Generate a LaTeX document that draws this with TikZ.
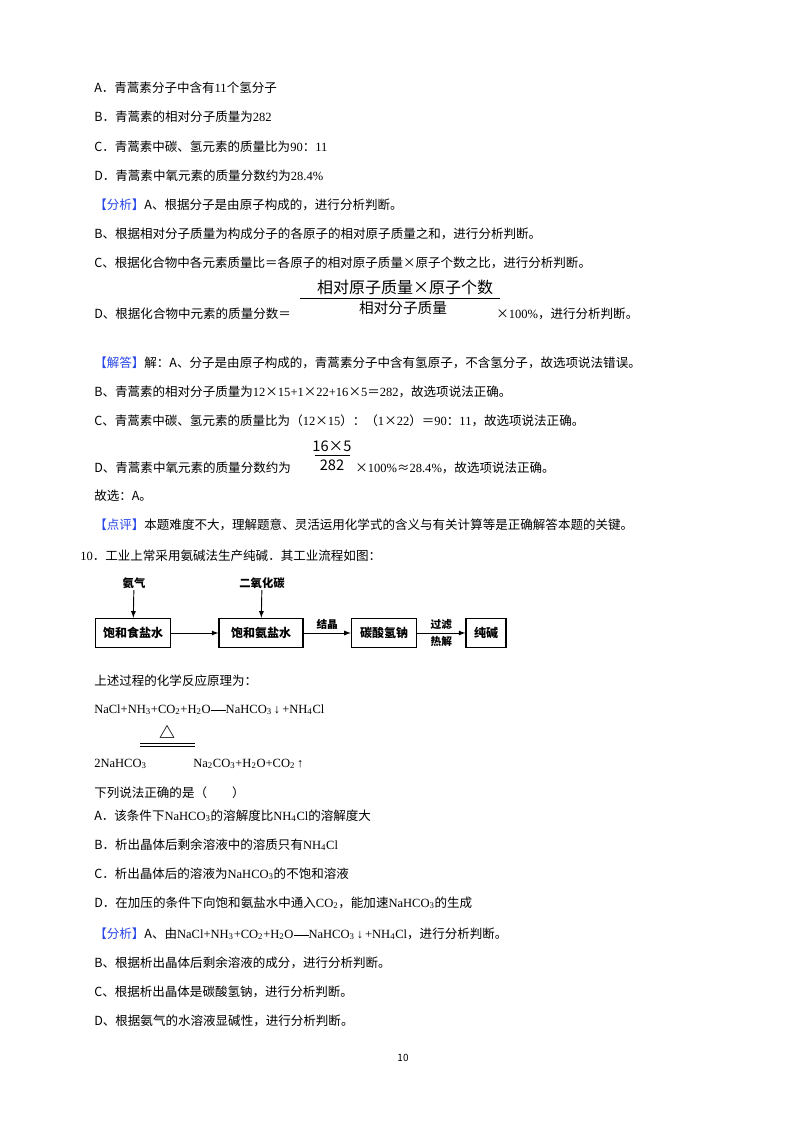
\documentclass[tikz,border=0pt]{standalone}
\usepackage{fontspec}
\setmainfont{Noto Sans CJK SC}
\newfontfamily\lat{Liberation Serif}
\definecolor{hl}{RGB}{40,70,230}
\newcommand{\sbt}[1]{\textsubscript{#1}}
\tikzset{ln/.style={anchor=base west,inner sep=0pt,font=\fontsize{9.4}{11}\selectfont},
box/.style={draw,line width=0.9pt,minimum height=22pt,inner sep=2pt,font=\fontsize{9}{11}\selectfont\bfseries},
arr/.style={-latex,line width=0.7pt},
tag/.style={text=hl,font=\fontsize{9.4}{11}\selectfont}}
\begin{document}
\begin{tikzpicture}[x=0.75pt,y=-0.75pt]
\useasboundingbox (0,0) rectangle (800,1132);
\fill[white] (0,0) rectangle (800,1132);
\node[ln] (a1) at (94,92) {A．青蒿素分子中含有{\lat 11}个氢分子};
\node[ln] (a2) at (94,121) {B．青蒿素的相对分子质量为{\lat 282}};
\node[ln] (a3) at (94,151) {C．青蒿素中碳、氢元素的质量比为{\lat 90}：{\lat 11}};
\node[ln] (a4) at (94,180) {D．青蒿素中氧元素的质量分数约为{\lat 28.4\%}};
\node[ln] (a5) at (94,209) {\textcolor{hl}{【分析】}A、根据分子是由原子构成的，进行分析判断。};
\node[ln] (a6) at (94,238) {B、根据相对分子质量为构成分子的各原子的相对原子质量之和，进行分析判断。};
\node[ln] (a7) at (94,267) {C、根据化合物中各元素质量比＝各原子的相对原子质量×原子个数之比，进行分析判断。};
\node[ln] (a8) at (94,318) {D、根据化合物中元素的质量分数＝};
\node[anchor=base,inner sep=0pt,font=\fontsize{12}{14}\selectfont] (f1) at (405,293) {相对原子质量×原子个数};
\draw[line width=0.6pt] (300,298) -- (500,298);
\node[anchor=base,inner sep=0pt,font=\fontsize{11}{13}\selectfont] (f2) at (403,313) {相对分子质量};
\node[ln] (a9) at (496,318) {×{\lat 100\%}，进行分析判断。};
\node[ln] (b1) at (94,367) {\textcolor{hl}{【解答】}解：A、分子是由原子构成的，青蒿素分子中含有氢原子，不含氢分子，故选项说法错误。};
\node[ln] (b2) at (94,396) {B、青蒿素的相对分子质量为{\lat 12}×{\lat 15+1}×{\lat 22+16}×{\lat 5}＝{\lat 282}，故选项说法正确。};
\node[ln] (b3) at (94,425) {C、青蒿素中碳、氢元素的质量比为（{\lat 12}×{\lat 15}）：（{\lat 1}×{\lat 22}）＝{\lat 90}：{\lat 11}，故选项说法正确。};
\node[ln] (b4) at (94,472) {D、青蒿素中氧元素的质量分数约为};
\node[anchor=base,inner sep=0pt,font=\fontsize{11}{13}\selectfont] (f3) at (332,451) {16×5};
\draw[line width=0.6pt] (315,455) -- (350,455);
\node[anchor=base,inner sep=0pt,font=\fontsize{11}{13}\selectfont] (f4) at (332,470) {282};
\node[ln] (b5) at (355,472) {×{\lat 100\%}≈{\lat 28.4\%}，故选项说法正确。};
\node[ln] (b6) at (94,500) {故选：A。};
\node[ln] (b7) at (94,529) {\textcolor{hl}{【点评】}本题难度不大，理解题意、灵活运用化学式的含义与有关计算等是正确解答本题的关键。};
\node[ln] (q) at (80,560) {{\lat 10}．工业上常采用氨碱法生产纯碱．其工业流程如图：};
% flow chart
\node[box,minimum width=56pt] (n1) at (133,633) {饱和食盐水};
\node[box,minimum width=63pt] (n2) at (261,633) {饱和氨盐水};
\node[box,minimum width=49pt] (n3) at (384,633) {碳酸氢钠};
\node[box,minimum width=30pt] (n4) at (486,633) {纯碱};
\node[font=\fontsize{8.5}{10}\selectfont\bfseries,inner sep=1pt] (g1) at (134,583) {氨气};
\node[font=\fontsize{8.5}{10}\selectfont\bfseries,inner sep=1pt] (g2) at (262,583) {二氧化碳};
\draw[arr] (g1) -- (n1);
\draw[arr] (g2) -- (n2);
\draw[arr] (n1) -- (n2);
\draw[arr] (n2) -- node[above=1pt,font=\fontsize{8}{10}\selectfont\bfseries,inner sep=1pt]{结晶} (n3);
\draw[arr] (n3) -- node[above=1pt,font=\fontsize{8}{10}\selectfont\bfseries,inner sep=1pt]{过滤} node[below=1pt,font=\fontsize{8}{10}\selectfont\bfseries,inner sep=1pt]{热解} (n4);
\node[ln] (c1) at (94,685) {上述过程的化学反应原理为：};
\node[ln,font=\fontsize{9.4}{11}\lat] (c2) at (94,713) {NaCl+NH\sbt{3}+CO\sbt{2}+H\sbt{2}O\rule[0.3ex]{1.2em}{0.9pt}NaHCO\sbt{3}\,↓\,+NH\sbt{4}Cl};
\node[font=\fontsize{12}{14}\selectfont\bfseries,inner sep=0pt] (dl) at (167,732) {△};
\draw[line width=0.5pt] (140,743.5) -- (195,743.5);
\draw[line width=0.5pt] (140,746.5) -- (195,746.5);
\node[ln,font=\fontsize{9.4}{11}\lat] (c3) at (94,767) {2NaHCO\sbt{3}};
\node[ln,font=\fontsize{9.4}{11}\lat] (c4) at (193,767) {Na\sbt{2}CO\sbt{3}+H\sbt{2}O+CO\sbt{2}\,↑};
\node[ln] (c5) at (94,797) {下列说法正确的是（\qquad）};
\node[ln] (d1) at (94,820) {A．该条件下{\lat NaHCO\sbt{3}}的溶解度比{\lat NH\sbt{4}Cl}的溶解度大};
\node[ln] (d2) at (94,849) {B．析出晶体后剩余溶液中的溶质只有{\lat NH\sbt{4}Cl}};
\node[ln] (d3) at (94,878) {C．析出晶体后的溶液为{\lat NaHCO\sbt{3}}的不饱和溶液};
\node[ln] (d4) at (94,907) {D．在加压的条件下向饱和氨盐水中通入{\lat CO\sbt{2}}，能加速{\lat NaHCO\sbt{3}}的生成};
\node[ln] (e1) at (94,938) {\textcolor{hl}{【分析】}A、由{\lat NaCl+NH\sbt{3}+CO\sbt{2}+H\sbt{2}O\rule[0.3ex]{1.2em}{0.9pt}NaHCO\sbt{3}\,↓\,+NH\sbt{4}Cl}，进行分析判断。};
\node[ln] (e2) at (94,967) {B、根据析出晶体后剩余溶液的成分，进行分析判断。};
\node[ln] (e3) at (94,996) {C、根据析出晶体是碳酸氢钠，进行分析判断。};
\node[ln] (e4) at (94,1025) {D、根据氨气的水溶液显碱性，进行分析判断。};
\node[anchor=base,inner sep=0pt,font=\fontsize{7.5}{9}\selectfont] (pg) at (403,1061) {10};
\end{tikzpicture}
\end{document}
